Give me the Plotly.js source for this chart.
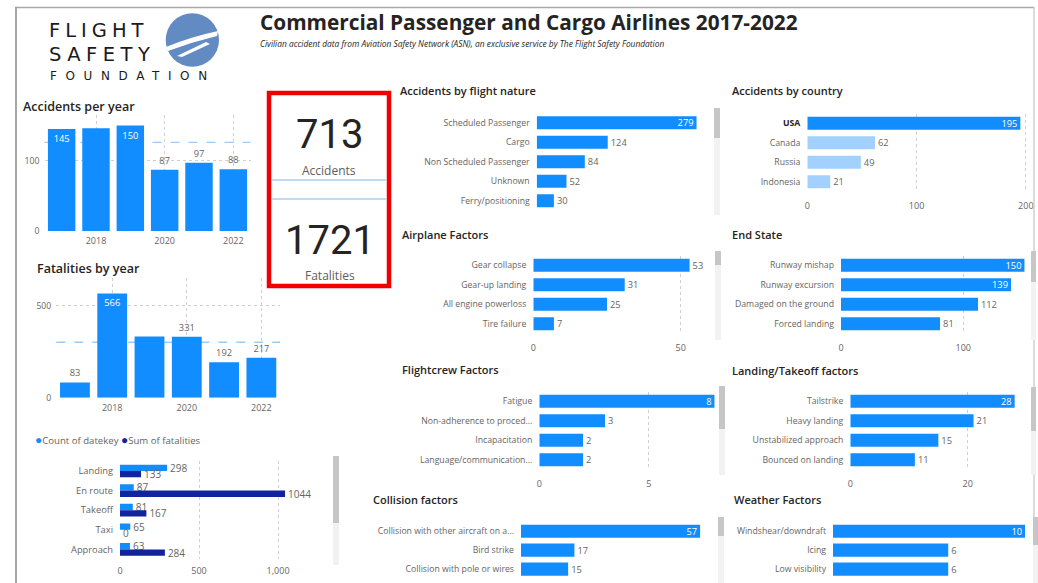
<!DOCTYPE html>
<html><head><meta charset="utf-8">
<script src="https://cdn.plot.ly/plotly-3.0.1.min.js"></script>
<style>html,body{margin:0;padding:0;background:#fff;overflow:hidden}#chart{width:1038px;height:583px}</style>
</head><body><div id="chart"></div>
<script>
// ---------------- data ----------------
const years = [2017, 2018, 2019, 2020, 2021, 2022];
const accidentsPerYear = [145, 146, 150, 87, 97, 88];
const accidentsNoLabelYears = [2018];
const fatalitiesPerYear = [83, 566, 332, 331, 192, 217];
const fatalitiesNoLabelYears = [2019];
const accidentsRefLine = 126;
const fatalitiesRefLine = 301;

const phaseSeries = ['Count of datekey', 'Sum of fatalities'];
const phaseCats = ['Landing', 'En route', 'Takeoff', 'Taxi', 'Approach'];
const phaseCount = [298, 87, 81, 65, 63];
const phaseFatal = [133, 1044, 167, 0, 284];
const phaseTicks = [0, 500, 1000];
const phaseTickText = ['0', '500', '1,000'];

const natureCats = ['Scheduled Passenger', 'Cargo', 'Non Scheduled Passenger', 'Unknown', 'Ferry/positioning'];
const natureVals = [279, 124, 84, 52, 30];
const countryCats = ['USA', 'Canada', 'Russia', 'Indonesia'];
const countryVals = [195, 62, 49, 21];
const countrySelected = 'USA';
const airplaneCats = ['Gear collapse', 'Gear-up landing', 'All engine powerloss', 'Tire failure'];
const airplaneVals = [53, 31, 25, 7];
const endStateCats = ['Runway mishap', 'Runway excursion', 'Damaged on the ground', 'Forced landing'];
const endStateVals = [150, 139, 112, 81];
const crewCats = ['Fatigue', 'Non-adherence to proced...', 'Incapacitation', 'Language/communication...'];
const crewVals = [8, 3, 2, 2];
const ltoCats = ['Tailstrike', 'Heavy landing', 'Unstabilized approach', 'Bounced on landing'];
const ltoVals = [28, 21, 15, 11];
const collisionCats = ['Collision with other aircraft on a...', 'Bird strike', 'Collision with pole or wires'];
const collisionVals = [57, 17, 15];
const weatherCats = ['Windshear/downdraft', 'Icing', 'Low visibility'];
const weatherVals = [10, 6, 6];

const totalAccidents = accidentsPerYear.reduce((a, b) => a + b, 0);
const totalFatalities = fatalitiesPerYear.reduce((a, b) => a + b, 0);

// ---------------- styling / helpers ----------------
const W = 1038, H = 583;
const fx = p => p / W, fy = p => 1 - p / H;
const FONT = 'Open Sans';
const BLUE = '#118DFF', NAVY = '#12239E', LIGHTBLUE = '#A3D1FF';
const DARK = '#252423', LBL = '#666463', GRID = '#D0D0D0';
const traces = [], annotations = [], shapes = [];
const layout = {
  width: W, height: H, margin: {l: 0, r: 0, t: 0, b: 0}, autosize: false,
  paper_bgcolor: '#fff', plot_bgcolor: 'rgba(0,0,0,0)', showlegend: false,
  barmode: 'overlay', hovermode: false, font: {family: FONT, color: DARK},
  annotations, shapes
};
let axN = 0;
function newAxes() {
  axN++; const s = axN === 1 ? '' : String(axN);
  return {xa: 'x' + s, ya: 'y' + s, xk: 'xaxis' + s, yk: 'yaxis' + s};
}
function labelWidth(v) { return String(v).length * 5.2 + 6; }

function hPanel(cats, vals, o) {
  const a = newAxes(); const n = cats.length;
  const scale = (o.x1 - o.x0) / o.max;
  const pos = vals.map(v => (o.x0 + v * scale + labelWidth(v) > o.x1) ? 'inside' : 'outside');
  traces.push({type: 'bar', orientation: 'h', x: vals, y: cats, xaxis: a.xa, yaxis: a.ya,
    width: o.bw || 0.667, marker: {color: o.colors || BLUE},
    text: vals.map(String), textposition: pos, insidetextanchor: 'end', constraintext: 'none',
    insidetextfont: {color: '#fff', size: 9.3, family: FONT}, outsidetextfont: {color: LBL, size: 9.3, family: FONT},
    textangle: 0, cliponaxis: false, hoverinfo: 'skip'});
  layout[a.xk] = {domain: [fx(o.x0), fx(o.x1)], range: [0, o.max], anchor: a.ya,
    showgrid: !!o.ticks, griddash: 'dot', gridcolor: GRID, gridwidth: 1, zeroline: false, showline: false,
    tickvals: o.ticks || [], ticktext: o.tickText, showticklabels: !!o.ticks,
    tickfont: {size: 9, color: LBL}, ticks: '', ticklabelstandoff: 7, fixedrange: true};
  layout[a.yk] = {domain: [fy(o.y0 + n * o.pitch), fy(o.y0)], type: 'category', range: [n - 0.5, -0.5],
    anchor: a.xa, showgrid: false, zeroline: false, showline: false, ticks: '',
    tickfont: {size: o.catSize || 8.7, color: LBL}, ticklabelstandoff: 6,
    tickvals: cats, ticktext: o.catText || cats, fixedrange: true};
  return a;
}

function vPanel(xs, vals, hidden, o) {
  const a = newAxes();
  const pos = vals.map((v, i) => hidden.includes(xs[i]) ? 'none' : (v / o.max > 0.8 ? 'inside' : 'outside'));
  traces.push({type: 'bar', x: xs, y: vals, xaxis: a.xa, yaxis: a.ya, width: 0.8,
    marker: {color: BLUE}, text: vals.map(String), textposition: pos, insidetextanchor: 'end', constraintext: 'none',
    insidetextfont: {color: '#fff', size: 9.3, family: FONT}, outsidetextfont: {color: LBL, size: 9.3, family: FONT},
    textangle: 0, cliponaxis: false, hoverinfo: 'skip'});
  const tv = xs.filter(y => y % 2 === 0);
  layout[a.xk] = {domain: [fx(o.x0), fx(o.x1)], range: [xs[0] - 0.5, xs[xs.length - 1] + 0.5], anchor: a.ya,
    tickvals: tv, ticktext: tv.map(String), showgrid: true, griddash: 'dot', gridcolor: GRID,
    zeroline: false, showline: false, ticks: '', tickfont: {size: 9, color: LBL}, ticklabelstandoff: 3, fixedrange: true};
  layout[a.yk] = {domain: [fy(o.yb), fy(o.yt)], range: [0, o.max], anchor: a.xa,
    tickvals: o.ticks, showgrid: true, griddash: 'dot', gridcolor: GRID, zeroline: false, showline: false,
    ticks: '', tickfont: {size: 8.7, color: LBL}, ticklabelstandoff: 4, fixedrange: true};
  shapes.push({type: 'line', xref: a.xa + ' domain', x0: 0, x1: 1, yref: a.ya, y0: o.ref, y1: o.ref,
    line: {color: '#9DCBF5', width: 1.3, dash: 'dash'}, layer: 'below'});
  return a;
}

function txt(text, x, y, size, opt = {}) {
  annotations.push({xref: 'paper', yref: 'paper', x: fx(x), y: fy(y), text, showarrow: false,
    xanchor: opt.anchor || 'left', yanchor: 'middle', borderpad: 0,
    font: {family: opt.family || FONT, size, color: opt.color || DARK, weight: opt.weight || 400, style: opt.style || 'normal'}});
}
function rectPx(x0, y0, x1, y1, fill, line) {
  shapes.push({type: 'rect', xref: 'paper', yref: 'paper', x0: fx(x0), x1: fx(x1), y0: fy(y1), y1: fy(y0),
    fillcolor: fill || 'rgba(0,0,0,0)', line: line || {width: 0}, layer: 'above'});
}
function linePx(x0, y0, x1, y1, color, width) {
  shapes.push({type: 'line', xref: 'paper', yref: 'paper', x0: fx(x0), x1: fx(x1), y0: fy(y0), y1: fy(y1),
    line: {color, width}, layer: 'above'});
}
function pathPx(d, fill) {
  const s = d.replace(/(-?\d+\.?\d*) (-?\d+\.?\d*)/g, (m, a, b) => fx(+a).toFixed(5) + ',' + fy(+b).toFixed(5));
  shapes.push({type: 'path', xref: 'paper', yref: 'paper', path: s, fillcolor: fill, line: {width: 0}, layer: 'above'});
}

// ---------------- vertical year charts ----------------
vPanel(years, accidentsPerYear, accidentsNoLabelYears, {x0: 44.5, x1: 250.5, yt: 115, yb: 231, max: 165, ticks: [0, 100], ref: accidentsRefLine});
vPanel(years, fatalitiesPerYear, fatalitiesNoLabelYears, {x0: 56.3, x1: 280, yt: 278, yb: 397.7, max: 650, ticks: [0, 500], ref: fatalitiesRefLine});

// ---------------- horizontal panels ----------------
hPanel(natureCats, natureVals, {x0: 536.7, x1: 712, max: 306, y0: 112.95, pitch: 19.5});
hPanel(countryCats, countryVals, {x0: 807.3, x1: 1028, max: 202, y0: 113.5, pitch: 19.5, ticks: [0, 100, 200],
  colors: countryCats.map(c => c === countrySelected ? BLUE : LIGHTBLUE),
  catText: countryCats.map(c => c === countrySelected ? '<span style="color:#252423"><b>' + c + '</b></span>' : c)});
hPanel(airplaneCats, airplaneVals, {x0: 533.3, x1: 712, max: 60.6, y0: 255.5, pitch: 19.5, ticks: [0, 50]});
hPanel(endStateCats, endStateVals, {x0: 841, x1: 1028, max: 152.9, y0: 255.5, pitch: 19.5, ticks: [0, 100]});
hPanel(crewCats, crewVals, {x0: 539.3, x1: 716, max: 8.07, y0: 391.5, pitch: 19.5, ticks: [0, 5]});
hPanel(ltoCats, ltoVals, {x0: 850.3, x1: 1017, max: 28.4, y0: 391.5, pitch: 19.5, ticks: [0, 20]});
hPanel(collisionCats, collisionVals, {x0: 521, x1: 702, max: 57.6, y0: 521.8, pitch: 18.9, bw: 0.7});
hPanel(weatherCats, weatherVals, {x0: 833, x1: 1026, max: 10.05, y0: 521.8, pitch: 18.9, bw: 0.7});

// ---------------- grouped phase chart ----------------
(function () {
  const a = newAxes(); const n = phaseCats.length; const y0 = 461.2, pitch = 19.6;
  const common = {type: 'bar', orientation: 'h', y: phaseCats, xaxis: a.xa, yaxis: a.ya, width: 0.325,
    textposition: 'outside', constraintext: 'none', outsidetextfont: {color: LBL, size: 10, family: FONT},
    textangle: 0, cliponaxis: false, hoverinfo: 'skip'};
  traces.push(Object.assign({}, common, {name: phaseSeries[0], x: phaseCount, offset: -0.325, marker: {color: BLUE}, text: phaseCount.map(String)}));
  traces.push(Object.assign({}, common, {name: phaseSeries[1], x: phaseFatal, offset: 0, marker: {color: NAVY}, text: phaseFatal.map(String)}));
  layout[a.xk] = {domain: [fx(120), fx(310)], range: [0, 1202], anchor: a.ya, tickvals: phaseTicks, ticktext: phaseTickText,
    showgrid: true, griddash: 'dot', gridcolor: GRID, zeroline: false, showline: false, ticks: '',
    tickfont: {size: 9, color: LBL}, ticklabelstandoff: 5, fixedrange: true};
  layout[a.yk] = {domain: [fy(y0 + n * pitch), fy(y0)], type: 'category', range: [n - 0.5, -0.5], anchor: a.xa,
    showgrid: false, zeroline: false, showline: false, ticks: '', tickfont: {size: 9.3, color: LBL}, ticklabelstandoff: 6, fixedrange: true};
  txt('<span style="color:' + BLUE + ';font-size:12px">●</span>' + phaseSeries[0] + ' <span style="color:' + NAVY + ';font-size:12px">●</span>' + phaseSeries[1],
    34, 439, 9.6, {color: LBL});
})();

// ---------------- texts ----------------
txt('Commercial Passenger and Cargo Airlines 2017-2022', 259, 21.5, 20.8, {weight: 700});
txt('Civilian accident data from Aviation Safety Network (ASN), an exclusive service by The Flight Safety Foundation', 259, 43.5, 8.4, {style: 'italic'});
txt('<span style="letter-spacing:5px">FLIGHT</span>', 48, 30.7, 19.5, {family: 'DejaVu Sans', color: '#1b1b1b'});
txt('<span style="letter-spacing:5.5px">SAFETY</span>', 48, 54.7, 19.5, {family: 'DejaVu Sans', color: '#1b1b1b'});
txt('<span style="letter-spacing:8.6px">FOUNDATION</span>', 49, 76, 12, {family: 'DejaVu Sans', color: '#1b1b1b'});

txt('Accidents per year', 22, 107, 12.5, {weight: 600});
txt('Fatalities by year', 35.5, 268.5, 12.5, {weight: 600});
txt('Accidents by flight nature', 399, 91, 11, {weight: 600});
txt('Accidents by country', 731, 91, 11, {weight: 600});
txt('Airplane Factors', 401, 234.5, 11, {weight: 600});
txt('End State', 731, 234.5, 11, {weight: 600});
txt('Flightcrew Factors', 401, 369, 11, {weight: 600});
txt('Landing/Takeoff factors', 731, 370.5, 11, {weight: 600});
txt('Collision factors', 372, 499.5, 11, {weight: 600});
txt('Weather Factors', 733, 499.5, 11, {weight: 600});

txt(String(totalAccidents), 329, 134, 40, {anchor: 'center', family: 'Roboto'});
txt('Accidents', 329, 170, 12, {anchor: 'center', color: '#605E5C'});
txt(String(totalFatalities), 329.5, 240, 40, {anchor: 'center', family: 'Roboto'});
txt('Fatalities', 330, 275, 12, {anchor: 'center', color: '#605E5C'});

// ---------------- decoration shapes ----------------
// frame
linePx(15, 7.5, 1034, 7.5, '#A8A8A8', 1.5);
linePx(16, 7, 16, 583, '#9E9E9E', 1.8);
linePx(1034, 7, 1034, 583, '#C4C4C4', 1.2);
// logo
shapes.push({type: 'circle', xref: 'paper', yref: 'paper', x0: fx(165.7), x1: fx(219), y0: fy(66.7), y1: fy(13.3),
  fillcolor: '#628AC3', line: {width: 0}, layer: 'above'});
pathPx('M 166 47 Q 190 37 218 31 L 217 36 Q 192 42 168 51 Z', '#ffffff');
pathPx('M 177 56 L 206 42 L 210 44 L 182 57 Z', '#ffffff');
// KPI card
rectPx(269, 93, 389, 286, null, {color: '#F00000', width: 4.5});
linePx(271.5, 180, 386.5, 180, '#A6CFF5', 1.5);
linePx(271.5, 199, 386.5, 199, '#A6CFF5', 1.5);
// scrollbars: [x0, x1, trackTop, trackBottom, thumbBottom]
const scrolls = [[714, 720, 108, 215, 138], [715, 721, 251, 340, 265], [719, 725, 386, 475, 429], [718, 724, 517, 583, 536],
  [333, 339, 456, 565, 523], [1031, 1036, 251, 340, 282], [1031, 1036, 387, 475, 431], [1033, 1038, 517, 583, 545]];
scrolls.forEach(s => { rectPx(s[0], s[2], s[1], s[3], '#F2F2F2'); rectPx(s[0], s[2], s[1], s[4], '#C6C6C6'); });

Plotly.newPlot('chart', traces, layout, {staticPlot: true, displayModeBar: false});
</script></body></html>
